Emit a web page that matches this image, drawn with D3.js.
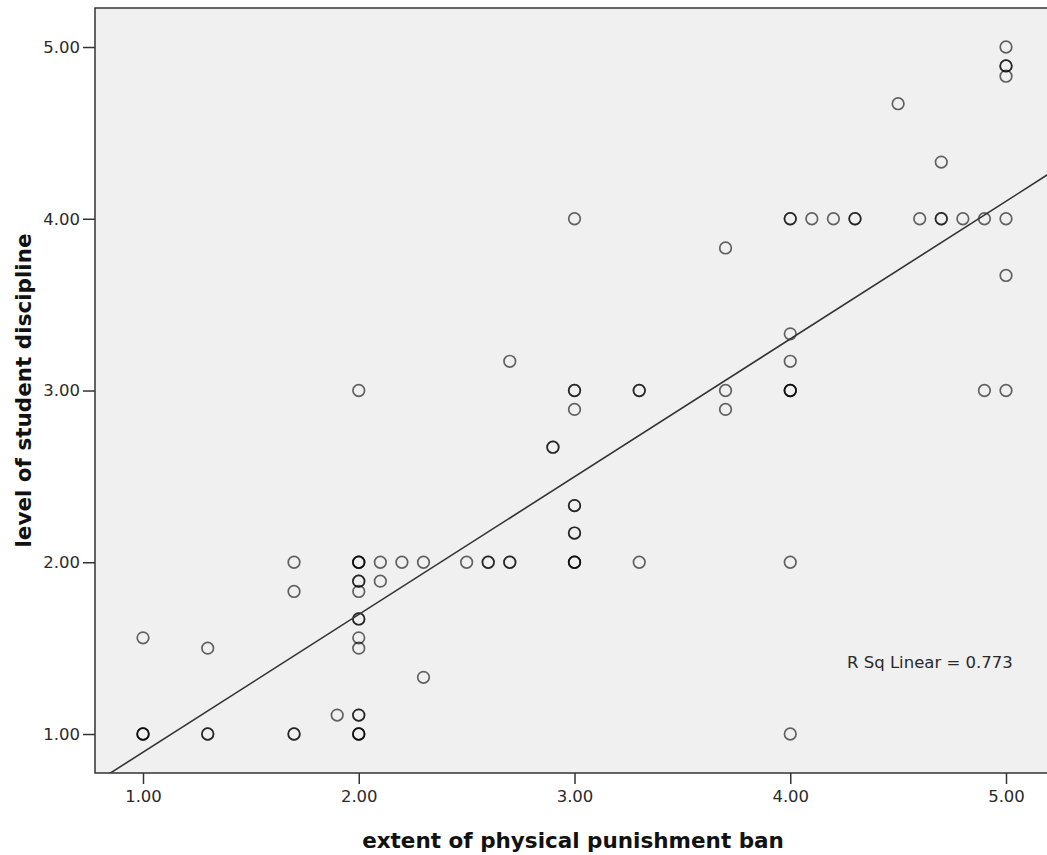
<!DOCTYPE html>
<html>
<head>
<meta charset="utf-8">
<script src="https://cdn.jsdelivr.net/npm/d3@7"></script>
<style>
  body { margin: 0; background: #fff; }
  .tick text { font-family: "DejaVu Sans", sans-serif; font-size: 16.5px; fill: #2a2a2a; }
  .tick line { stroke: #333; stroke-width: 1.5; }
  .title { font-family: "DejaVu Sans", sans-serif; font-weight: bold; font-size: 21.5px; fill: #111; }
</style>
</head>
<body>
<div id="chart"></div>
<script>
// extent of physical punishment ban (x) / level of student discipline (y)
var punishBan = [
  1.0, 1.0, 1.0, 1.0,
  1.3, 1.3, 1.3,
  1.7, 1.7, 1.7, 1.7,
  1.9,
  2.0, 2.0, 2.0, 2.0, 2.0, 2.0, 2.0, 2.0, 2.0, 2.0, 2.0, 2.0, 2.0, 2.0, 2.0, 2.0,
  2.1, 2.1,
  2.2,
  2.3, 2.3,
  2.5,
  2.6, 2.6,
  2.7, 2.7, 2.7,
  2.9, 2.9,
  3.0, 3.0, 3.0, 3.0, 3.0, 3.0, 3.0, 3.0, 3.0, 3.0, 3.0,
  3.3, 3.3, 3.3,
  3.7, 3.7, 3.7,
  4.0, 4.0, 4.0, 4.0, 4.0, 4.0, 4.0, 4.0, 4.0,
  4.1, 4.2, 4.3, 4.3,
  4.5,
  4.6,
  4.7, 4.7, 4.7,
  4.8,
  4.9, 4.9,
  5.0, 5.0, 5.0, 5.0, 5.0, 5.0, 5.0
];
var discipline = [
  1.56, 1.0, 1.0, 1.0,
  1.5, 1.0, 1.0,
  2.0, 1.83, 1.0, 1.0,
  1.11,
  3.0, 2.0, 2.0, 2.0, 1.89, 1.89, 1.83, 1.67, 1.67, 1.56, 1.5, 1.11, 1.11, 1.0, 1.0, 1.0,
  2.0, 1.89,
  2.0,
  2.0, 1.33,
  2.0,
  2.0, 2.0,
  3.17, 2.0, 2.0,
  2.67, 2.67,
  4.0, 3.0, 3.0, 2.89, 2.33, 2.33, 2.17, 2.17, 2.0, 2.0, 2.0,
  3.0, 3.0, 2.0,
  3.83, 3.0, 2.89,
  4.0, 4.0, 3.33, 3.17, 3.0, 3.0, 3.0, 2.0, 1.0,
  4.0, 4.0, 4.0, 4.0,
  4.67,
  4.0,
  4.33, 4.0, 4.0,
  4.0,
  4.0, 3.0,
  5.0, 4.89, 4.89, 4.83, 4.0, 3.67, 3.0
];
var xTicks = [1, 2, 3, 4, 5];
var yTicks = [1, 2, 3, 4, 5];
var fit = { intercept: 0.092, slope: 0.802 };
var rsqLabel = 'R Sq Linear = 0.773';

var width = 1047, height = 855;
var plot = { left: 95, top: 8, right: 1065, bottom: 773 };

var svg = d3.select('#chart').append('svg')
  .attr('width', width)
  .attr('height', height);

var x = d3.scaleLinear()
  .domain([0.7775, 0.7775 + (plot.right - plot.left) / 215.75])
  .range([plot.left, plot.right]);
var y = d3.scaleLinear()
  .domain([0.773, 0.773 + (plot.bottom - plot.top) / 171.75])
  .range([plot.bottom, plot.top]);

svg.append('rect')
  .attr('x', plot.left)
  .attr('y', plot.top)
  .attr('width', plot.right - plot.left)
  .attr('height', plot.bottom - plot.top)
  .attr('fill', '#f0f0f0')
  .attr('stroke', '#333')
  .attr('stroke-width', 1.5);

var fmt = d3.format('.2f');

var gx = svg.append('g')
  .attr('transform', 'translate(0,' + plot.bottom + ')')
  .call(d3.axisBottom(x).tickValues(xTicks).tickFormat(fmt).tickSize(11).tickPadding(6));
gx.select('.domain').remove();

var gy = svg.append('g')
  .attr('transform', 'translate(' + plot.left + ',0)')
  .call(d3.axisLeft(y).tickValues(yTicks).tickFormat(fmt).tickSize(12).tickPadding(3));
gy.select('.domain').remove();

// clip so the fit line stays inside the frame
svg.append('clipPath').attr('id', 'clip')
  .append('rect')
  .attr('x', plot.left)
  .attr('y', plot.top)
  .attr('width', plot.right - plot.left)
  .attr('height', plot.bottom - plot.top);

var pts = punishBan.map(function(v, i) { return [v, discipline[i]]; });

svg.append('g')
  .selectAll('circle')
  .data(pts)
  .enter()
  .append('circle')
  .attr('cx', d => x(d[0]))
  .attr('cy', d => y(d[1]))
  .attr('r', 5.8)
  .attr('fill', 'none')
  .attr('stroke', '#000')
  .attr('stroke-opacity', 0.6)
  .attr('stroke-width', 1.7);

var xd = x.domain();
svg.append('line')
  .attr('clip-path', 'url(#clip)')
  .attr('x1', x(xd[0]))
  .attr('y1', y(fit.intercept + fit.slope * xd[0]))
  .attr('x2', x(xd[1]))
  .attr('y2', y(fit.intercept + fit.slope * xd[1]))
  .attr('stroke', '#333')
  .attr('stroke-width', 1.6);

svg.append('text')
  .attr('x', 847)
  .attr('y', 668)
  .style('font-family', '"DejaVu Sans", sans-serif')
  .style('font-size', '16.5px')
  .style('fill', '#2a2a2a')
  .text(rsqLabel);

svg.append('text')
  .attr('class', 'title')
  .attr('x', 573)
  .attr('y', 848)
  .attr('text-anchor', 'middle')
  .text('extent of physical punishment ban');

svg.append('text')
  .attr('class', 'title')
  .attr('transform', 'translate(31,' + (plot.top + plot.bottom) / 2 + ') rotate(-90)')
  .attr('text-anchor', 'middle')
  .text('level of student discipline');
</script>
</body>
</html>
